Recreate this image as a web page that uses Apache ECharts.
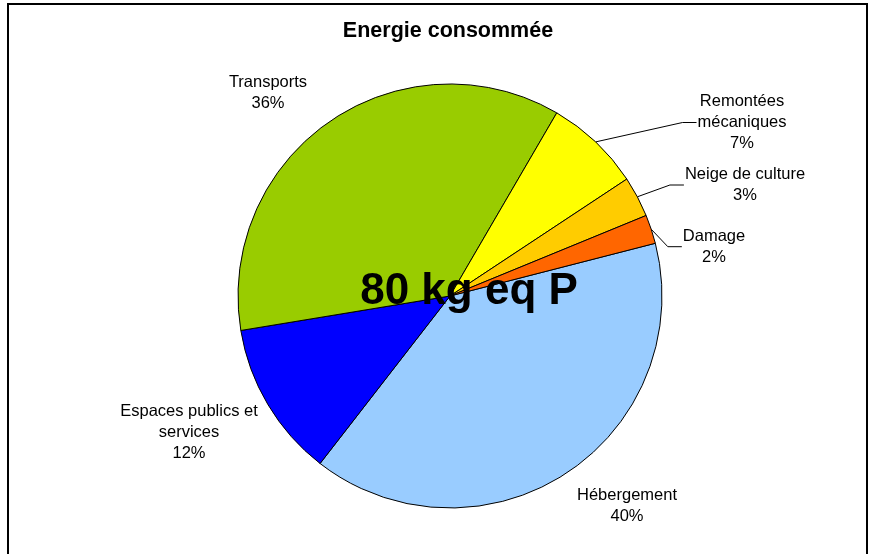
<!DOCTYPE html>
<html>
<head>
<meta charset="utf-8">
<script src="https://cdn.jsdelivr.net/npm/echarts@6/dist/echarts.min.js"></script>
<style>html,body{margin:0;padding:0;background:#fff}#chart{width:878px;height:554px}</style>
</head>
<body>
<div id="chart"></div>
<script>
// Data (clockwise from the Hébergement slice)
const categories = ['Hébergement', 'Espaces publics et\nservices', 'Transports', 'Remontées\nmécaniques', 'Neige de culture', 'Damage'];
const values = [39.5, 11.9, 36.0, 7.3, 3.1, 2.2];
const titleText = 'Energie consommée';
const centerText = '80 kg eq P';

// Styling / label placement (not data)
const colors = ['#99CCFF', '#0000FF', '#99CC00', '#FFFF00', '#FFCC00', '#FF6600'];
const showLine = [false, false, false, true, true, true];
const labelPos = [[627, 505.5], [189, 432], [268, 93], [742, 122.5], [745, 185], [714, 246.7]];
const FONT = 'Liberation Sans, Arial, Helvetica, sans-serif';

const chart = echarts.init(document.getElementById('chart'), null, {renderer: 'canvas'});
chart.setOption({
  animation: false,
  backgroundColor: '#fff',
  graphic: [
    {type: 'rect', shape: {x: 8, y: 4, width: 859, height: 570}, style: {fill: 'none', stroke: '#000', lineWidth: 2}, z: 0},
    {type: 'text', x: 448, y: 31, z: 100, style: {text: titleText, align: 'center', verticalAlign: 'middle', font: 'bold 21.5px ' + FONT, fill: '#000'}},
    {type: 'text', x: 469, y: 292, z: 100, style: {text: centerText, align: 'center', verticalAlign: 'middle', font: 'bold 44px ' + FONT, fill: '#000'}}
  ],
  series: [{
    type: 'pie',
    center: [450, 296],
    radius: 212,
    startAngle: 14.4,
    clockwise: true,
    avoidLabelOverlap: false,
    percentPrecision: 0,
    itemStyle: {borderColor: '#000', borderWidth: 1},
    emphasis: {disabled: true},
    label: {
      show: true,
      position: 'outside',
      formatter: '{b}\n{d}%',
      color: '#000',
      fontFamily: FONT,
      fontSize: 16.5,
      lineHeight: 21,
      align: 'center'
    },
    labelLine: {show: true, length: 10, length2: 10, smooth: false, lineStyle: {color: '#000', width: 1}},
    labelLayout: function (params) {
      const i = params.dataIndex;
      const p = labelPos[i];
      const res = {x: p[0], y: p[1], align: 'center', verticalAlign: 'middle'};
      if (showLine[i] && params.labelLinePoints && params.labelLinePoints.length) {
        const left = p[0] - params.labelRect.width / 2 - 1;
        res.labelLinePoints = [params.labelLinePoints[0], [left - 14, p[1]], [left, p[1]]];
      }
      return res;
    },
    data: categories.map((name, i) => ({
      name: name,
      value: values[i],
      itemStyle: {color: colors[i]},
      labelLine: {show: showLine[i]}
    }))
  }]
});
</script>
</body>
</html>
